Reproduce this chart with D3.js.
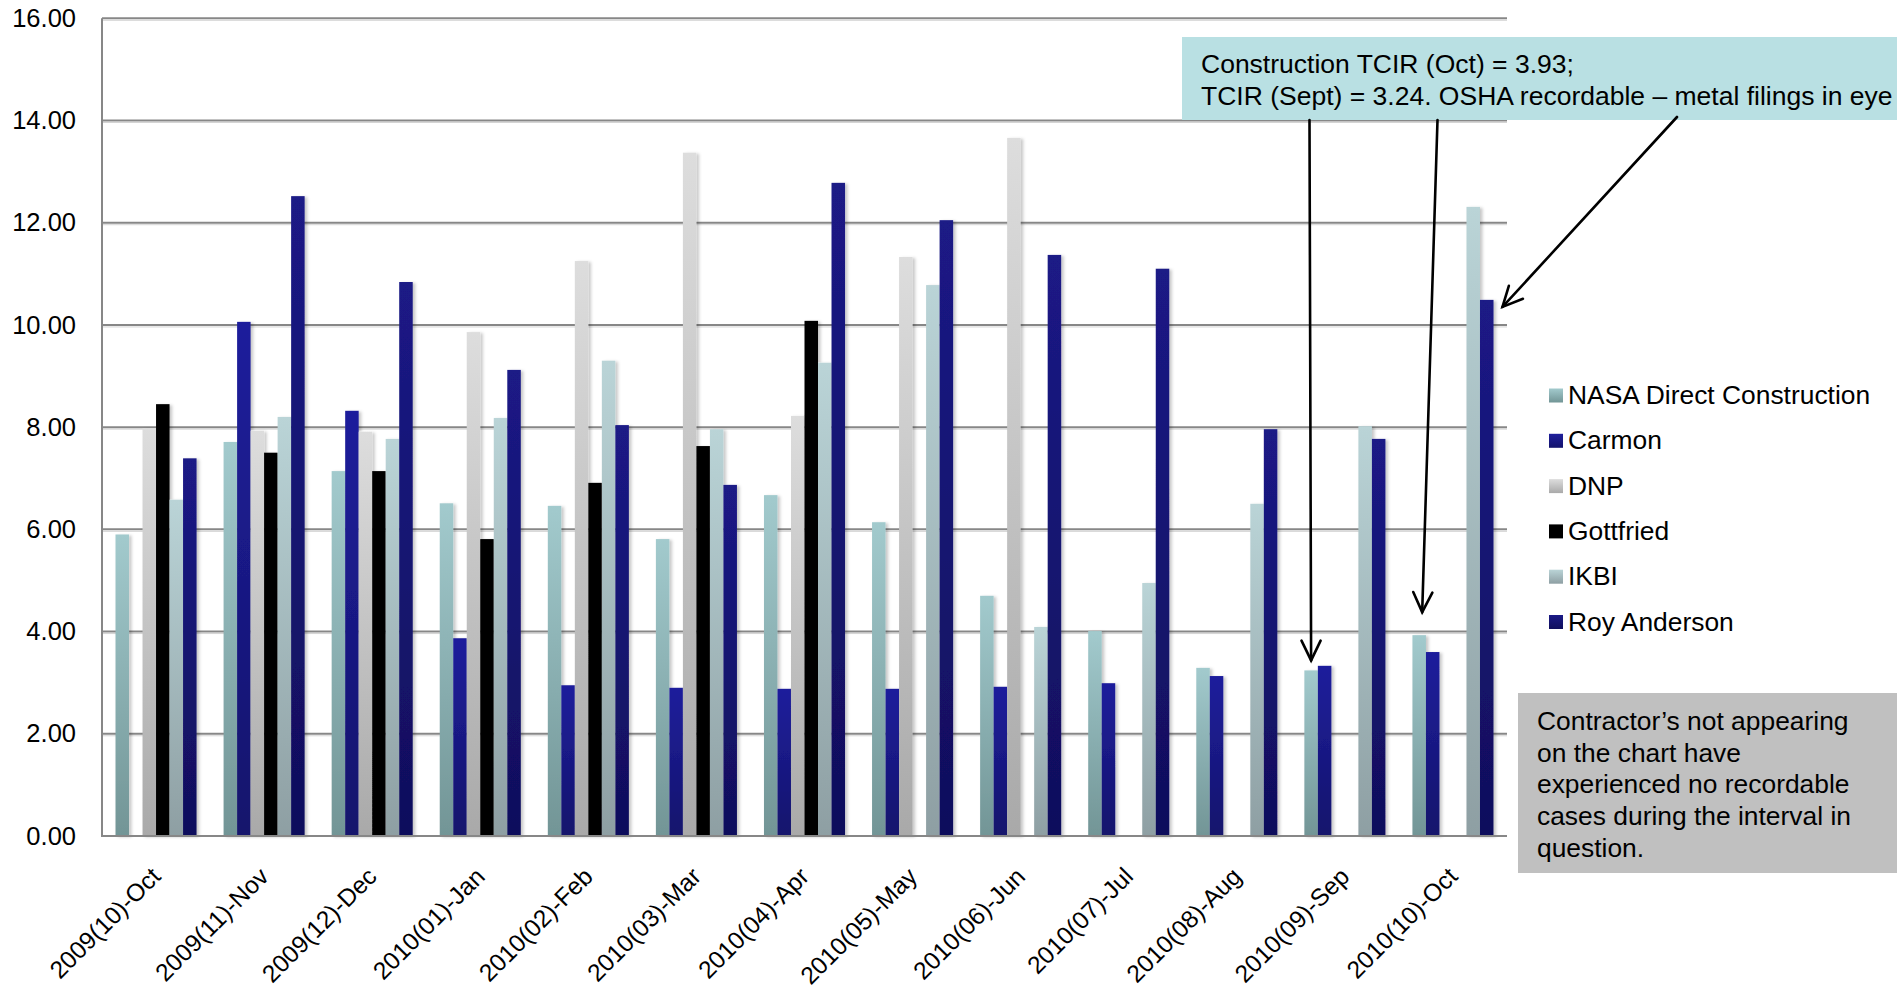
<!DOCTYPE html>
<html>
<head>
<meta charset="utf-8">
<script src="https://cdn.jsdelivr.net/npm/d3@7"></script>
<style>
  html, body { margin: 0; padding: 0; background: #ffffff; }
  svg { display: block; }
  text { font-family: "Liberation Sans", Arial, sans-serif; fill: #000; }
</style>
</head>
<body>
<script>
// ---------------- data ----------------
const categories = ["2009(10)-Oct","2009(11)-Nov","2009(12)-Dec","2010(01)-Jan","2010(02)-Feb","2010(03)-Mar","2010(04)-Apr","2010(05)-May","2010(06)-Jun","2010(07)-Jul","2010(08)-Aug","2010(09)-Sep","2010(10)-Oct"];
const seriesNames = ["NASA Direct Construction","Carmon","DNP","Gottfried","IKBI","Roy Anderson"];
const nasa      = [5.90, 7.71, 7.14, 6.51, 6.46, 5.81, 6.67, 6.14, 4.70, 4.01, 3.29, 3.24, 3.93];
const carmon    = [0,   10.06, 8.32, 3.87, 2.95, 2.90, 2.88, 2.88, 2.92, 2.99, 3.13, 3.33, 3.60];
const dnp       = [7.98, 7.93, 7.91, 9.86,11.25,13.37, 8.22,11.33,13.66, 0,    0,    0,    0   ];
const gottfried = [8.45, 7.50, 7.14, 5.81, 6.91, 7.63,10.08, 0,    0,    0,    0,    0,    0   ];
const ikbi      = [6.58, 8.20, 7.77, 8.18, 9.30, 7.96, 9.26,10.78, 4.09, 4.95, 6.50, 8.02,12.31];
const roy       = [7.39,12.52,10.84, 9.12, 8.04, 6.87,12.78,12.05,11.37,11.10, 7.96, 7.77,10.49];
const yTicks = [0, 2, 4, 6, 8, 10, 12, 14, 16];
const calloutLines = ["Construction TCIR (Oct) = 3.93;", "TCIR (Sept) = 3.24. OSHA recordable \u2013 metal filings in eye"];
const noteLines = ["Contractor\u2019s not appearing", "on the chart have", "experienced no recordable", "cases during the interval in", "question."];

const seriesValues = [nasa, carmon, dnp, gottfried, ikbi, roy];
// colour gradients: [top, bottom]
const seriesGrad = [["#a2cacd","#729596"],["#1f1f9c","#13136c"],["#dddddd","#a9a9a9"],["#000000","#000000"],["#bad4d7","#8e9fa3"],["#1b1a86","#100f5c"]];

// ---------------- layout ----------------
const W = 1897, H = 996;
const plot = {left: 102, right: 1507, top: 18.3, bottom: 836};

const svg = d3.select("body").append("svg").attr("width", W).attr("height", H);
const defs = svg.append("defs");
seriesGrad.forEach((g, i) => {
  const lg = defs.append("linearGradient").attr("id", "g" + i).attr("x1", 0).attr("y1", 0).attr("x2", 0).attr("y2", 1);
  lg.append("stop").attr("offset", "0%").attr("stop-color", g[0]);
  lg.append("stop").attr("offset", "100%").attr("stop-color", g[1]);
});
const f = defs.append("filter").attr("id", "shadow").attr("x", "-50%").attr("y", "-5%").attr("width", "200%").attr("height", "110%");
f.append("feDropShadow").attr("dx", 2.5).attr("dy", 1).attr("stdDeviation", 1.8).attr("flood-color", "#000").attr("flood-opacity", 0.22);

const y = d3.scaleLinear().domain([0, 16]).range([plot.bottom, plot.top]);
const x0 = d3.scaleBand().domain(categories).range([plot.left, plot.right]).paddingInner(0.25).paddingOuter(0.125);
const x1 = d3.scaleBand().domain(seriesNames).range([0, x0.bandwidth()]);

// gridlines
const grid = svg.append("g");
grid.selectAll("line.sh").data(yTicks.filter(d => d > 0)).join("line")
  .attr("x1", plot.left).attr("x2", plot.right)
  .attr("y1", d => y(d) + 2).attr("y2", d => y(d) + 2)
  .attr("stroke", "#d4d4d4").attr("stroke-width", 1);
grid.selectAll("line.gl").data(yTicks.filter(d => d > 0)).join("line")
  .attr("x1", plot.left).attr("x2", plot.right)
  .attr("y1", d => y(d)).attr("y2", d => y(d))
  .attr("stroke", "#878787").attr("stroke-width", 2);

// y axis (labels only, via d3 axis)
const yAxis = svg.append("g").attr("transform", `translate(${plot.left},0)`)
  .call(d3.axisLeft(y).tickValues(yTicks).tickFormat(d3.format(".2f")).tickSize(0).tickPadding(26));
yAxis.select(".domain").remove();
yAxis.selectAll("text").style("font-size", "25.5px").style("font-family", "Liberation Sans, Arial, sans-serif").attr("fill", "#000");

// bars
const flat = [];
categories.forEach((c, ci) => {
  seriesNames.forEach((s, si) => {
    const v = seriesValues[si][ci];
    if (v > 0) flat.push({c, s, si, v});
  });
});
svg.append("g").attr("filter", "url(#shadow)")
  .selectAll("rect").data(flat).join("rect")
  .attr("x", d => x0(d.c) + x1(d.s))
  .attr("width", x1.bandwidth())
  .attr("y", d => y(d.v))
  .attr("height", d => y(0) - y(d.v))
  .attr("fill", d => `url(#g${d.si})`);

// axes lines
svg.append("line").attr("x1", plot.left).attr("x2", plot.left).attr("y1", plot.top).attr("y2", plot.bottom + 1)
  .attr("stroke", "#878787").attr("stroke-width", 2);
svg.append("line").attr("x1", plot.left).attr("x2", plot.right).attr("y1", plot.bottom).attr("y2", plot.bottom)
  .attr("stroke", "#878787").attr("stroke-width", 2);

// x labels
svg.append("g").selectAll("text").data(categories).join("text")
  .attr("transform", d => `translate(${x0(d) + x0.bandwidth() / 2 + 6},${878}) rotate(-45)`)
  .attr("text-anchor", "end")
  .style("font-size", "24.5px")
  .text(d => d);

// legend
const leg = svg.append("g");
seriesNames.forEach((s, i) => {
  const by = 404 + i * 45.3;
  leg.append("rect").attr("x", 1549).attr("y", by - 15.5).attr("width", 14).attr("height", 14).attr("fill", `url(#g${i})`);
  leg.append("text").attr("x", 1568).attr("y", by).style("font-size", "26.4px").text(s);
});

// callout box
svg.append("rect").attr("x", 1182).attr("y", 37).attr("width", W - 1182).attr("height", 83).attr("fill", "#b9e0e3");
calloutLines.forEach((t, i) => {
  svg.append("text").attr("x", 1201).attr("y", 73 + i * 32).style("font-size", "26.5px").text(t);
});

// note box
svg.append("rect").attr("x", 1518).attr("y", 693).attr("width", W - 1518).attr("height", 180).attr("fill", "#c0c0c0");
noteLines.forEach((t, i) => {
  svg.append("text").attr("x", 1537).attr("y", 730 + i * 31.7).style("font-size", "26.4px").text(t);
});

// arrows: from callout box to bars
const arrows = [
  {from: [1309.5, 120], cat: "2010(09)-Sep", ser: "NASA Direct Construction", dx: 0,  dy: -10, anchor: "center"},
  {from: [1437.5, 120], cat: "2010(10)-Oct", ser: "NASA Direct Construction", dx: 3,  dy: -23, anchor: "center"},
  {from: [1677, 117],   cat: "2010(10)-Oct", ser: "Roy Anderson",             dx: 9,  dy: 7,   anchor: "right"}
];
const ag = svg.append("g").attr("stroke", "#000").attr("stroke-width", 2.6).attr("fill", "none").attr("stroke-linecap", "round");
arrows.forEach(a => {
  const ci = categories.indexOf(a.cat), si = seriesNames.indexOf(a.ser);
  const v = seriesValues[si][ci];
  const bx = x0(a.cat) + x1(a.ser) + (a.anchor === "center" ? x1.bandwidth() / 2 : x1.bandwidth());
  const tx = bx + a.dx, ty = y(v) + a.dy;
  const [fx, fy] = a.from;
  ag.append("line").attr("x1", fx).attr("y1", fy).attr("x2", tx).attr("y2", ty);
  const ang = Math.atan2(fy - ty, fx - tx);
  const L = 22, spread = 0.45;
  const p1 = [tx + L * Math.cos(ang + spread), ty + L * Math.sin(ang + spread)];
  const p2 = [tx + L * Math.cos(ang - spread), ty + L * Math.sin(ang - spread)];
  ag.append("path").attr("d", `M${p1[0]},${p1[1]}L${tx},${ty}L${p2[0]},${p2[1]}`).attr("stroke-linejoin", "miter");
});
</script>
</body>
</html>
